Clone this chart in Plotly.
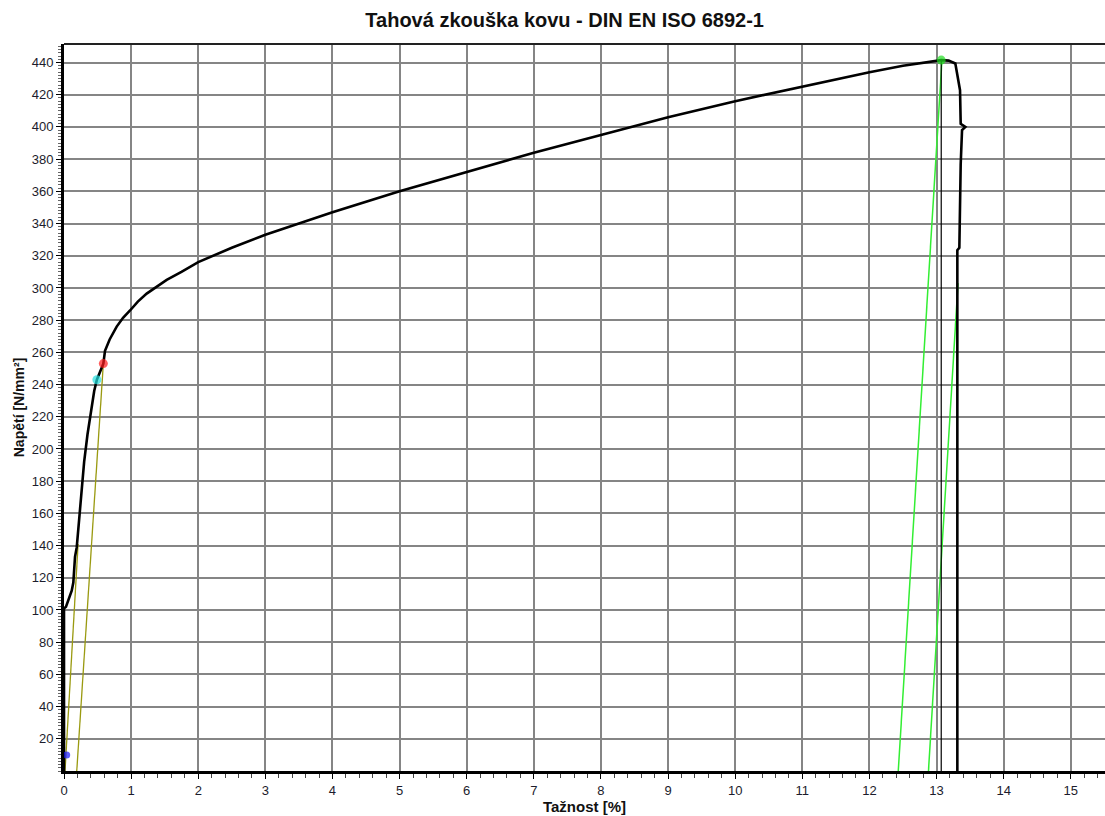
import plotly.graph_objects as go

# ---- data ----
strain = [0.0, 0.0, 0.03, 0.064, 0.115, 0.139, 0.164, 0.19, 0.25, 0.30, 0.35, 0.40,
          0.45, 0.49, 0.54, 0.586, 0.611, 0.68, 0.785, 0.88, 0.984, 1.1, 1.232, 1.38,
          1.53, 1.75, 2.0, 2.5, 3.0, 3.5, 4.0, 5.0, 6.0, 7.0, 8.0, 9.0, 10.0, 11.0,
          12.0, 12.5, 13.0, 13.07, 13.18, 13.28, 13.35, 13.36, 13.43, 13.38, 13.36,
          13.34, 13.34, 13.31, 13.31]
stress = [0, 101, 102, 106, 112, 117, 133, 139, 170, 192, 209, 224,
          236, 243, 248, 253, 261, 268, 276, 281.5, 286, 291.5, 296.5, 301,
          305, 310, 316, 325, 333, 340, 347, 360, 372, 384, 395, 406, 416, 425,
          434, 438, 441, 441.5, 441.2, 439.4, 422.8, 402, 400, 398, 377,
          340, 325, 323.4, 0]

# elastic lines (olive), 0.2 % offset line
olive_a_x = [0.015, 0.21]
olive_a_y = [0, 141]
olive_b_x = [0.19, 0.586]
olive_b_y = [0, 253]

# unloading lines (green)
green1_x = [12.43, 13.08]
green1_y = [0, 441]
green2_x = [12.88, 13.32]
green2_y = [0, 303]

# Fmax vertical line
fmax_x = [13.07, 13.07]
fmax_y = [0, 441.5]

# characteristic points
pt_x = [0.04, 0.49, 0.586, 13.07]
pt_y = [10, 243, 253, 441.5]
pt_colors = ["#1a1aff", "#22e0e0", "#ff1a1a", "#22dd22"]
pt_sizes = [7, 9, 9, 9]

x_ticks = list(range(0, 16))
y_ticks = list(range(20, 441, 20))

title_text = "Tahová zkouška kovu - DIN EN ISO 6892-1"
x_title = "Tažnost [%]"
y_title = "Napětí [N/mm²]"

# ---- figure ----
fig = go.Figure()

fig.add_trace(go.Scatter(x=olive_a_x, y=olive_a_y, mode="lines",
                         line=dict(color="#9a9a10", width=1.3), hoverinfo="skip"))
fig.add_trace(go.Scatter(x=olive_b_x, y=olive_b_y, mode="lines",
                         line=dict(color="#9a9a10", width=1.3), hoverinfo="skip"))
fig.add_trace(go.Scatter(x=green1_x, y=green1_y, mode="lines",
                         line=dict(color="#33ee33", width=1.5), hoverinfo="skip"))
fig.add_trace(go.Scatter(x=green2_x, y=green2_y, mode="lines",
                         line=dict(color="#33ee33", width=1.5), hoverinfo="skip"))
fig.add_trace(go.Scatter(x=fmax_x, y=fmax_y, mode="lines",
                         line=dict(color="#000000", width=1.2), hoverinfo="skip"))
fig.add_trace(go.Scatter(x=strain, y=stress, mode="lines",
                         line=dict(color="#000000", width=2.6), hoverinfo="skip"))
fig.add_trace(go.Scatter(x=pt_x, y=pt_y, mode="markers",
                         marker=dict(color=pt_colors, size=pt_sizes, line=dict(width=0)),
                         hoverinfo="skip"))

font_family = "Liberation Sans, Arial, sans-serif"

fig.update_layout(
    width=1105, height=816,
    margin=dict(l=64, r=0, t=44, b=45),
    paper_bgcolor="white", plot_bgcolor="white",
    showlegend=False,
    title=dict(text="<b>" + title_text + "</b>", x=0.511, xref="container",
               xanchor="center", y=0.975, yref="container", yanchor="middle",
               font=dict(family=font_family, size=20, color="#111")),
    font=dict(family=font_family, size=13, color="#1c1c2c"),
)

fig.update_xaxes(
    range=[0, 15.51], tickmode="array", tickvals=x_ticks,
    showgrid=True, gridcolor="#858585", gridwidth=2,
    showline=True, linecolor="#000", linewidth=3,
    ticks="outside", ticklen=5, tickcolor="#000", tickwidth=1,
    minor=dict(tickmode="linear", tick0=0, dtick=0.2, ticks="outside",
               ticklen=4, tickcolor="#444", showgrid=False),
    zeroline=False,
    tickfont=dict(size=13),
    title=dict(text="<b>" + x_title + "</b>", font=dict(size=15, color="#111"), standoff=1),
)

fig.update_yaxes(
    range=[0, 451.5], tickmode="array", tickvals=y_ticks,
    showgrid=True, gridcolor="#858585", gridwidth=2,
    showline=True, linecolor="#000", linewidth=3,
    ticks="outside", ticklen=5, tickcolor="#000", tickwidth=1,
    minor=dict(tickmode="linear", tick0=0, dtick=2, ticks="outside",
               ticklen=3, tickcolor="#666", showgrid=False),
    zeroline=False,
    tickfont=dict(size=13),
    title=dict(text="<b>" + y_title + "</b>", font=dict(size=14, color="#111"), standoff=4),
)

# top border of the plot area
fig.add_shape(type="line", xref="paper", yref="paper", x0=0, x1=1, y0=1, y1=1,
              line=dict(color="#222", width=2))

fig.write_html("out.html")
